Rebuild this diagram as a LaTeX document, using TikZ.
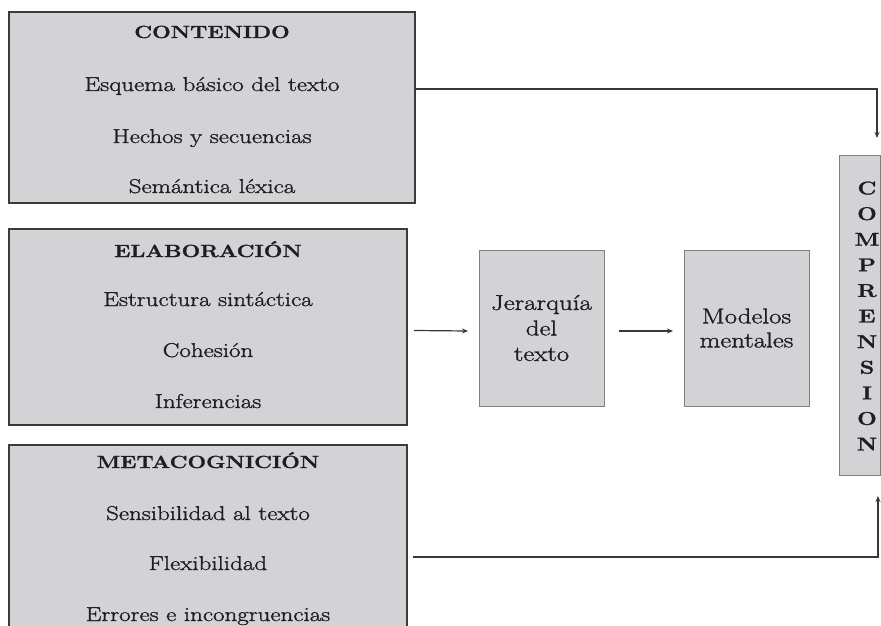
\documentclass[tikz,border=0pt]{standalone}
\usepackage{fontspec}
\setmainfont{Latin Modern Roman}[FakeStretch=1.25, FakeBold=1.4]
\usetikzlibrary{arrows.meta}
\definecolor{boxfill}{RGB}{211,211,214}
\definecolor{boxline}{RGB}{58,58,60}
\definecolor{smallline}{RGB}{128,128,130}
\definecolor{txtcol}{RGB}{30,30,32}
\definecolor{conncol}{RGB}{55,55,58}
\tikzset{
  bigbox/.style={draw=boxline, line width=2pt, fill=boxfill, inner sep=0pt, outer sep=0pt},
  smallbox/.style={draw=smallline, line width=1pt, fill=boxfill, inner sep=0pt, outer sep=0pt},
  txt/.style={anchor=base, inner sep=0pt, text=txtcol, font=\fontsize{20}{25}\selectfont},
  btxt/.style={anchor=base, inner sep=0pt, text=txtcol, font=\fontsize{17.6}{25}\selectfont\bfseries},
  conn/.style={draw=conncol, line width=1.5pt, -{Stealth[length=6pt,width=5pt]}},
  conn2/.style={draw=conncol, line width=1.2pt, -{Stealth[length=6pt,width=5pt]}}
}
\begin{document}
\begin{tikzpicture}[x=1pt, y=-1pt]
\useasboundingbox (0,0) rectangle (881,626);
\clip (0,0) rectangle (881,626);
\fill[white] (0,0) rectangle (881,626);
% left boxes
\node[bigbox, minimum width=406pt, minimum height=191pt] (cont) at (212,107.5) {};
\node[bigbox, minimum width=398pt, minimum height=196pt] (elab) at (208,327) {};
\node[bigbox, minimum width=398pt, minimum height=205pt] (meta) at (208,547.5) {};
% texts
\node[btxt] (c0) at (212,38) {CONTENIDO};
\node[txt] (c1) at (212,91) {Esquema básico del texto};
\node[txt] (c2) at (212,143) {Hechos y secuencias};
\node[txt] (c3) at (212,193) {Semántica léxica};
\node[btxt] (e0) at (208,257) {ELABORACIÓN};
\node[txt] (e1) at (208,306) {Estructura sintáctica};
\node[txt] (e2) at (208,357) {Cohesión};
\node[txt] (e3) at (208,408) {Inferencias};
\node[btxt] (m0) at (208,468) {METACOGNICIÓN};
\node[txt] (m1) at (208,520) {Sensibilidad al texto};
\node[txt] (m2) at (208,570) {Flexibilidad};
\node[txt] (m3) at (208,621) {Errores e incongruencias};
% middle boxes
\node[smallbox, minimum width=125pt, minimum height=156pt, align=center, text=txtcol, font=\fontsize{21.5}{25.5}\selectfont] (jer) at (541.5,328) {Jerarquía\\del\\texto};
\node[smallbox, minimum width=125pt, minimum height=156pt, align=center, text=txtcol, font=\fontsize{21.5}{24}\selectfont] (mod) at (746.5,328) {Modelos\\mentales};
\node[smallbox, minimum width=41pt, minimum height=320pt] (comp) at (859.5,315) {};
\node[align=center, inner sep=0pt, text=txtcol, font=\fontsize{18.5}{25.6}\selectfont\bfseries] (comptxt) at (867,316) {C\\O\\M\\P\\R\\E\\N\\S\\I\\O\\N};
% connectors
\coordinate (topend) at (877,138);
\coordinate (botend) at (878,496);
\draw[conn] ([yshift=18.5pt]cont.east) -| (topend);
\draw[conn] ([xshift=6pt,yshift=-9.5pt]meta.east) -| (botend);
\draw[conn2] ([xshift=7pt,yshift=-3.5pt]elab.east) -- ([xshift=-11pt,yshift=-3pt]jer.west);
\draw[conn2] ([xshift=15pt,yshift=-3pt]jer.east) -- ([xshift=-11pt,yshift=-3pt]mod.west);
\end{tikzpicture}
\end{document}
